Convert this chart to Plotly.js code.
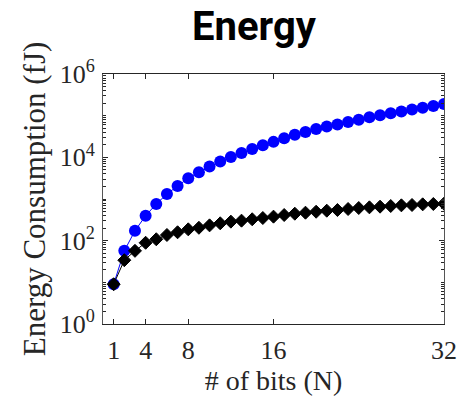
<!DOCTYPE html>
<html>
<head>
<meta charset="utf-8">
<script src="https://cdn.plot.ly/plotly-3.0.1.min.js"></script>
<style>html,body{margin:0;padding:0;background:#fff;}#chart{width:463px;height:396px;}</style>
</head>
<body>
<div id="chart"></div>
<script>
const bits = [1,2,3,4,5,6,7,8,9,10,11,12,13,14,15,16,17,18,19,20,21,22,23,24,25,26,27,28,29,30,31,32];
const energyBlue = [9,57,173,397,760,1318,2050,3150,4370,6000,7900,10200,12700,15800,19500,23500,28800,34700,40700,47900,55000,61700,70800,79400,91200,102000,115000,126000,141000,155000,170000,190000];
const energyBlack = [9,34,57,89,108,137,159,187,204,233,261,286,302,326,350,377,413,444,469,495,524,544,575,608,631,655,679,705,718,745,758,772];
const xTicks = [1,4,8,16,32];
const yTickVals = [1,100,10000,1000000];
const yTickText = ['10<sup>0</sup>','10<sup>2</sup>','10<sup>4</sup>','10<sup>6</sup>'];

const serif = 'Liberation Serif, Times New Roman, serif';
const traces = [
  {x: bits, y: energyBlue, type: 'scatter', mode: 'lines+markers',
   line: {color: '#0000ff', width: 1},
   marker: {symbol: 'circle', size: 12, color: '#0000ff', line: {width: 0}}},
  {x: bits, y: energyBlack, type: 'scatter', mode: 'lines+markers',
   line: {color: '#000000', width: 1},
   marker: {symbol: 'diamond', size: 10, color: '#000000', line: {width: 1, color: '#000000'}}}
];
const layout = {
  width: 463, height: 396,
  margin: {l: 103, r: 19, t: 74, b: 72},
  paper_bgcolor: '#ffffff', plot_bgcolor: '#ffffff',
  showlegend: false,
  title: {text: '<b>Energy</b>', font: {family: 'Roboto, sans-serif', size: 40, color: '#000'},
          x: 254/463, xref: 'container', xanchor: 'center', y: 1 - 26/396, yref: 'container', yanchor: 'middle'},
  xaxis: {range: [0, 32], tickvals: xTicks, ticktext: xTicks.map(String),
          ticks: 'inside', ticklen: 5, tickcolor: '#262626', mirror: 'ticks', ticklabelstandoff: 3,
          showline: true, linecolor: '#262626', linewidth: 1, showgrid: false, zeroline: false,
          tickfont: {family: serif, size: 26, color: '#262626'},
          title: {text: '# of bits (N)', font: {family: serif, size: 28, color: '#262626'}, standoff: 14}},
  yaxis: {type: 'log', range: [0, 6], tickvals: yTickVals, ticktext: yTickText,
          ticks: 'inside', ticklen: 5, tickcolor: '#262626', mirror: 'ticks', ticklabelstandoff: 2,
          showline: true, linecolor: '#555555', linewidth: 1, showgrid: false, zeroline: false,
          minor: {ticks: 'inside', ticklen: 3, tickcolor: '#262626', dtick: 'D1', showgrid: false},
          tickfont: {family: serif, size: 26, color: '#262626'},
          title: {text: 'Energy Consumption (fJ)', font: {family: serif, size: 31, color: '#262626'}, standoff: 4}}
};
Plotly.newPlot('chart', traces, layout, {displayModeBar: false, staticPlot: true});
</script>
</body>
</html>
